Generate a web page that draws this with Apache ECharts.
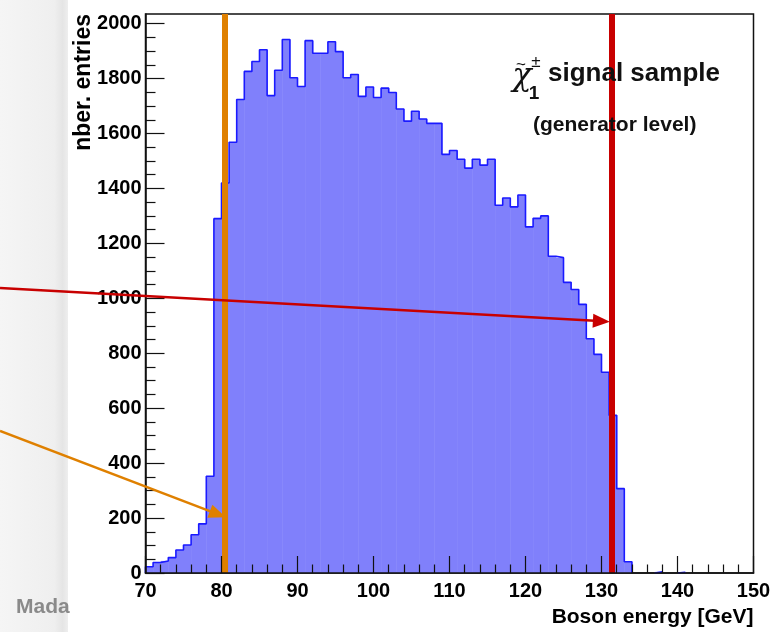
<!DOCTYPE html>
<html><head><meta charset="utf-8">
<script src="https://cdn.jsdelivr.net/npm/echarts@6/dist/echarts.min.js"></script>
<style>html,body{margin:0;padding:0;background:#fff}#c{width:780px;height:632px}</style>
</head><body><div id="c"></div>
<script>
// ---- data ----
const binLow = [70,71,72,73,74,75,76,77,78,79,80,81,82,83,84,85,86,87,88,89,
                90,91,92,93,94,95,96,97,98,99,100,101,102,103,104,105,106,107,108,109,
                110,111,112,113,114,115,116,117,118,119,120,121,122,123,124,125,126,127,128,129,
                130,131,132,133,134,135,136,137,138,139,140,141,142,143,144,145,146,147,148,149];
const counts = [23,38,44,56,84,102,139,179,352,1290,1420,1568,1724,1826,1862,1905,1738,1830,1942,1803,
                1771,1938,1892,1892,1934,1898,1803,1815,1735,1769,1731,1765,1749,1689,1645,1681,1653,1637,1637,1524,
                1538,1506,1474,1506,1485,1506,1339,1365,1333,1376,1260,1291,1300,1153,1148,1058,1032,978,853,796,
                731,574,307,41,0,0,0,4,0,0,3,0,0,0,0,0,0,0,0,0];
const binWidth = 1;
const xTickLabels = [70,80,90,100,110,120,130,140,150];
const yTickLabels = [0,200,400,600,800,1000,1200,1400,1600,1800,2000];
const yFrameMax = 2035;
const orangeCut = 80.43;
const redCut = 131.3;
const redArrowTipValue = 915;
const orangeArrowTipValue = 203;

const FONT = 'Liberation Sans, Arial, Helvetica, sans-serif';

// histogram envelope (step outline), built from counts
const envelope = [];
let inRun = false;
for (let i = 0; i < counts.length; i++) {
  const v = counts[i];
  if (v > 0) {
    if (!inRun) { envelope.push([binLow[i], 0]); inRun = true; }
    envelope.push([binLow[i], v]);
  } else if (inRun) {
    envelope.push([binLow[i], counts[i-1]]);
    envelope.push([binLow[i], 0]);
    envelope.push(null);
    inRun = false;
  }
}
if (inRun) { const e = binLow[binLow.length-1] + binWidth; envelope.push([e, counts[counts.length-1]]); envelope.push([e, 0]); }

const gridLeft = 145.5, gridTop = 14, gridW = 608, gridH = 559;
const tickGridH = gridH * yTickLabels[yTickLabels.length-1] / yFrameMax;

const chart = echarts.init(document.getElementById('c'), null, {renderer: 'canvas'});
const tickStyle = {color: '#111', width: 1.2};
const plain = v => String(v);
const option = {
  animation: false,
  backgroundColor: '#fff',
  grid: [
    {left: gridLeft, top: gridTop, width: gridW, height: gridH, show: true, borderColor: '#111', borderWidth: 1.5, backgroundColor: '#fff'},
    {left: gridLeft, top: gridTop + gridH - tickGridH, width: gridW, height: tickGridH, show: false}
  ],
  xAxis: [
    {gridIndex: 0, type: 'value', min: xTickLabels[0], max: xTickLabels[xTickLabels.length-1], interval: 10, z: 10,
     axisLine: {show: true, lineStyle: {color: '#111', width: 1.5}},
     axisTick: {show: true, inside: true, length: 17, lineStyle: tickStyle},
     minorTick: {show: true, splitNumber: 5, length: 8.5, lineStyle: tickStyle},
     splitLine: {show: false},
     axisLabel: {margin: 8, fontSize: 20, fontWeight: 'bold', color: '#000', fontFamily: FONT, formatter: plain}},
    {gridIndex: 1, type: 'value', min: 70, max: 150, show: false}
  ],
  yAxis: [
    {gridIndex: 0, type: 'value', min: 0, max: yFrameMax, z: 10,
     axisLine: {show: true, lineStyle: {color: '#111', width: 1.5}},
     axisTick: {show: false}, axisLabel: {show: false}, splitLine: {show: false}},
    {gridIndex: 1, type: 'value', min: yTickLabels[0], max: yTickLabels[yTickLabels.length-1], interval: 200, z: 10,
     axisLine: {show: false},
     axisTick: {show: true, inside: true, length: 19, lineStyle: tickStyle},
     minorTick: {show: true, splitNumber: 4, length: 10, lineStyle: tickStyle},
     splitLine: {show: false},
     axisLabel: {margin: 4, fontSize: 20, fontWeight: 'bold', color: '#000', fontFamily: FONT, formatter: plain}}
  ],
  series: [
    {type: 'custom', xAxisIndex: 0, yAxisIndex: 0, z: 2,
     data: binLow.map((x, i) => [x, counts[i]]),
     encode: {x: 0, y: 1},
     renderItem: function (params, api) {
       const x0 = api.value(0), v = api.value(1);
       if (!v) return null;
       const p0 = api.coord([x0, v]);
       const p1 = api.coord([x0 + binWidth, 0]);
       return {type: 'rect', shape: {x: p0[0], y: p0[1], width: p1[0] - p0[0] + 0.5, height: p1[1] - p0[1]},
               style: {fill: '#8080fb'}};
     }},
    {type: 'line', xAxisIndex: 0, yAxisIndex: 0, z: 3, step: 'end', showSymbol: false, silent: true,
     connectNulls: false,
     data: envelope,
     lineStyle: {color: '#1a1aff', width: 1.6},
     markLine: {silent: true, symbol: ['none', 'none'], label: {show: false}, animation: false,
       data: [
         {xAxis: orangeCut, lineStyle: {color: '#df8000', width: 6, type: 'solid'}},
         {xAxis: redCut, lineStyle: {color: '#c80000', width: 6, type: 'solid'}}
       ]}}
  ]
};
chart.setOption(option);

function px(x, y) { return chart.convertToPixel({gridIndex: 0}, [x, y]); }
function arrow(x1, y1, x2, y2, color, w, len, half) {
  const dx = x2 - x1, dy = y2 - y1, L = Math.sqrt(dx*dx + dy*dy);
  const ux = dx / L, uy = dy / L;
  const bx = x2 - ux * len, by = y2 - uy * len;
  return [
    {type: 'line', z: 120, silent: true, shape: {x1: x1, y1: y1, x2: bx + ux*2, y2: by + uy*2}, style: {stroke: color, lineWidth: w}},
    {type: 'polygon', z: 121, silent: true, shape: {points: [[x2, y2], [bx - uy*half, by + ux*half], [bx + uy*half, by - ux*half]]}, style: {fill: color}}
  ];
}
const redTip = px(redCut, redArrowTipValue);
const orTip = px(orangeCut, orangeArrowTipValue);
const graphics = [
  {type: 'rect', z: 100, silent: true, shape: {x: 0, y: 0, width: 68, height: 632},
   style: {fill: {type: 'linear', x: 0, y: 0, x2: 1, y2: 0, colorStops: [
     {offset: 0, color: '#f5f5f5'}, {offset: 0.8, color: '#efefef'}, {offset: 0.92, color: '#e5e5e5'}, {offset: 1, color: '#eeeeee'}]}}},
  {type: 'text', z: 101, silent: true, x: 16, y: 607, style: {text: 'Mada', fill: '#8a8a8a', font: 'bold 21px ' + FONT, verticalAlign: 'middle', align: 'left'}},
  {type: 'text', z: 50, silent: true, x: 84, y: 14, rotation: Math.PI/2,
   style: {text: 'nber. entries', fill: '#000', font: 'bold 23px ' + FONT, align: 'right', verticalAlign: 'middle'}},
  {type: 'text', z: 50, silent: true, x: 753.5, y: 617,
   style: {text: 'Boson energy [GeV]', fill: '#000', font: 'bold 21px ' + FONT, align: 'right', verticalAlign: 'middle'}},
  // legend-like annotation
  {type: 'text', z: 50, silent: true, x: 522, y: 77, style: {text: 'χ', fill: '#111', font: 'italic 32px DejaVu Serif, Liberation Serif, serif', align: 'center', verticalAlign: 'middle'}},
  {type: 'text', z: 50, silent: true, x: 521, y: 65, style: {text: '~', fill: '#111', font: '17px ' + FONT, align: 'center', verticalAlign: 'middle'}},
  {type: 'text', z: 50, silent: true, x: 536, y: 62, style: {text: '±', fill: '#111', font: '17px ' + FONT, align: 'center', verticalAlign: 'middle'}},
  {type: 'text', z: 50, silent: true, x: 534, y: 94, style: {text: '1', fill: '#111', font: 'bold 19px ' + FONT, align: 'center', verticalAlign: 'middle'}},
  {type: 'text', z: 50, silent: true, x: 548, y: 74, style: {text: 'signal sample', fill: '#111', font: 'bold 26px ' + FONT, align: 'left', verticalAlign: 'middle'}},
  {type: 'text', z: 50, silent: true, x: 533, y: 125, style: {text: '(generator level)', fill: '#111', font: 'bold 21px ' + FONT, align: 'left', verticalAlign: 'middle'}}
].concat(
  arrow(0, 288, redTip[0] - 1.5, redTip[1], '#c80000', 2.5, 17, 7),
  arrow(0, 431, orTip[0] + 1, orTip[1], '#df8000', 2.5, 17, 7)
);
chart.setOption({graphic: graphics});
</script>
</body></html>
